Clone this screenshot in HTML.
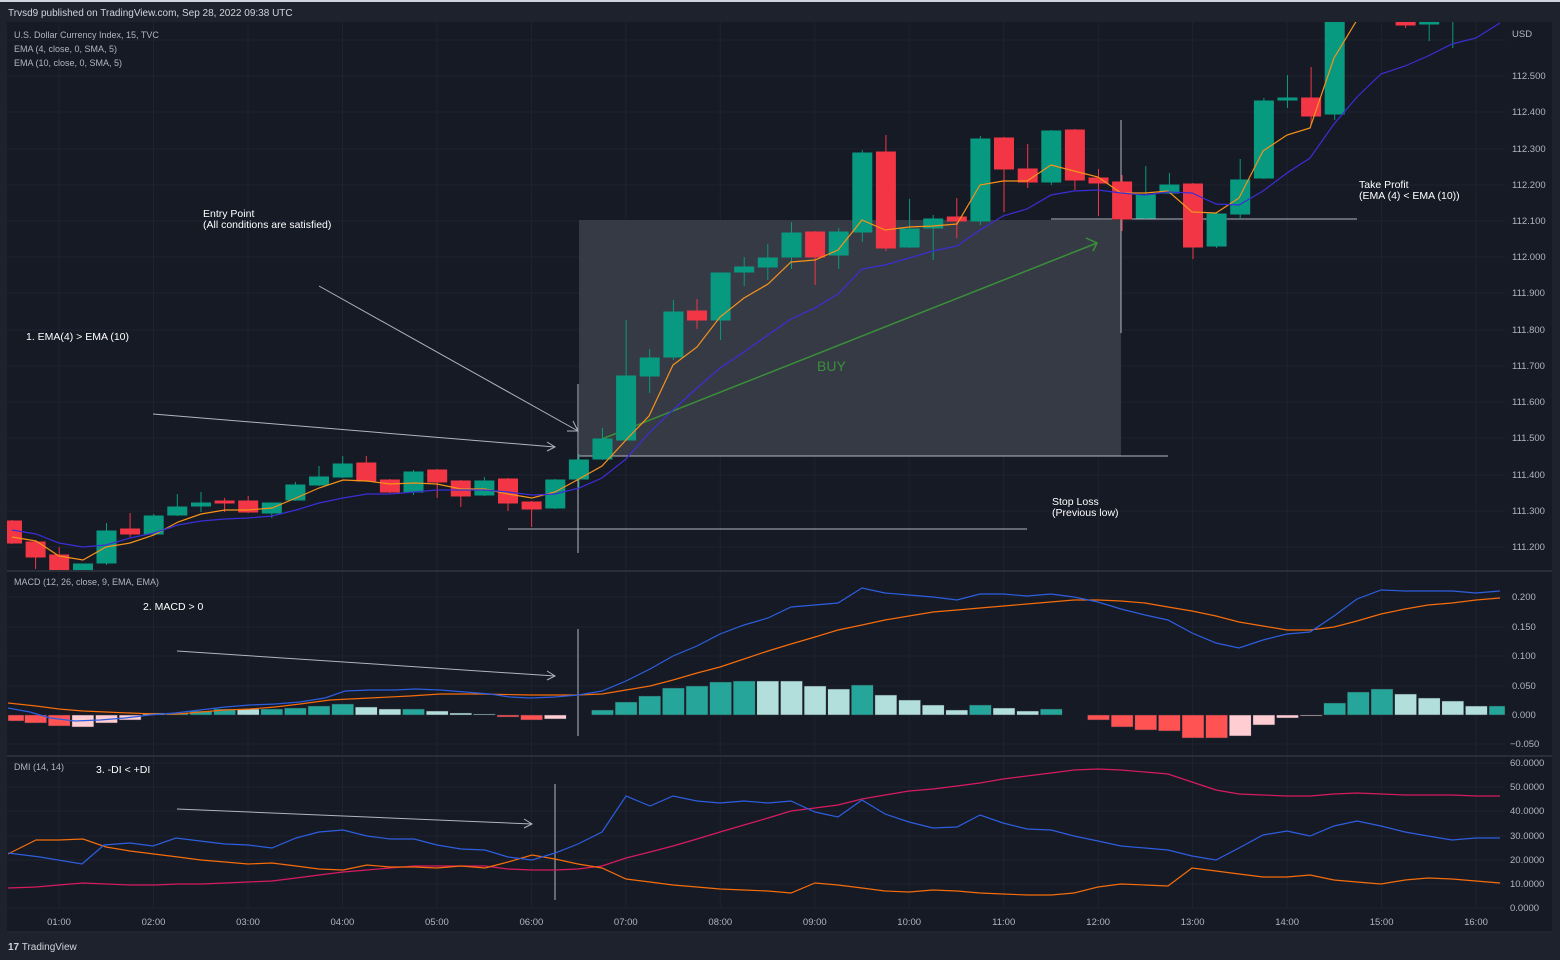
<!DOCTYPE html>
<html><head><meta charset="utf-8"><style>
html,body{margin:0;padding:0;background:#1e222d;}
svg{display:block;font-family:"Liberation Sans",sans-serif;}
</style></head><body>
<svg width="1560" height="960" viewBox="0 0 1560 960" xmlns="http://www.w3.org/2000/svg">
<rect x="0" y="0" width="1560" height="960" fill="#1e222d"/>
<rect x="0" y="0" width="1560" height="2" fill="#d1d4dc"/>
<rect x="7" y="22" width="1545" height="910" fill="#161a25"/>
<text x="8" y="16" font-size="10" fill="#d1d4dc">Trvsd9 published on TradingView.com, Sep 28, 2022 09:38 UTC</text>
<!-- grid -->
<g stroke="#1f2330" stroke-width="1">
<line x1="59" y1="22" x2="59" y2="908"/><line x1="153.5" y1="22" x2="153.5" y2="908"/><line x1="248" y1="22" x2="248" y2="908"/><line x1="342.4" y1="22" x2="342.4" y2="908"/><line x1="436.9" y1="22" x2="436.9" y2="908"/><line x1="531.4" y1="22" x2="531.4" y2="908"/><line x1="625.8" y1="22" x2="625.8" y2="908"/><line x1="720.3" y1="22" x2="720.3" y2="908"/><line x1="814.8" y1="22" x2="814.8" y2="908"/><line x1="909.2" y1="22" x2="909.2" y2="908"/><line x1="1003.7" y1="22" x2="1003.7" y2="908"/><line x1="1098.2" y1="22" x2="1098.2" y2="908"/><line x1="1192.6" y1="22" x2="1192.6" y2="908"/><line x1="1287.1" y1="22" x2="1287.1" y2="908"/><line x1="1381.6" y1="22" x2="1381.6" y2="908"/><line x1="1476" y1="22" x2="1476" y2="908"/>
<line x1="7" y1="40" x2="1505" y2="40"/><line x1="7" y1="76" x2="1505" y2="76"/><line x1="7" y1="112" x2="1505" y2="112"/><line x1="7" y1="149" x2="1505" y2="149"/><line x1="7" y1="185" x2="1505" y2="185"/><line x1="7" y1="221" x2="1505" y2="221"/><line x1="7" y1="257" x2="1505" y2="257"/><line x1="7" y1="293" x2="1505" y2="293"/><line x1="7" y1="330" x2="1505" y2="330"/><line x1="7" y1="366" x2="1505" y2="366"/><line x1="7" y1="402" x2="1505" y2="402"/><line x1="7" y1="438" x2="1505" y2="438"/><line x1="7" y1="475" x2="1505" y2="475"/><line x1="7" y1="511" x2="1505" y2="511"/><line x1="7" y1="547" x2="1505" y2="547"/>
<line x1="7" y1="597" x2="1505" y2="597"/><line x1="7" y1="627" x2="1505" y2="627"/><line x1="7" y1="656" x2="1505" y2="656"/><line x1="7" y1="686" x2="1505" y2="686"/><line x1="7" y1="744" x2="1505" y2="744"/>
<line x1="7" y1="763" x2="1505" y2="763"/><line x1="7" y1="787" x2="1505" y2="787"/><line x1="7" y1="811" x2="1505" y2="811"/><line x1="7" y1="836" x2="1505" y2="836"/><line x1="7" y1="860" x2="1505" y2="860"/><line x1="7" y1="884" x2="1505" y2="884"/><line x1="7" y1="908" x2="1505" y2="908"/>
</g>
<g stroke="#2a2e39" stroke-width="2"><line x1="7" y1="571" x2="1552" y2="571"/><line x1="7" y1="756" x2="1552" y2="756"/></g>
<line x1="7" y1="932" x2="1552" y2="932" stroke="#2a2e39"/>

<!-- position box -->
<rect x="579" y="220" width="542" height="236" fill="#363a45"/>
<g stroke="#b2b5be" stroke-width="1">
<line x1="579" y1="456" x2="1168" y2="456"/>
<line x1="1051" y1="219" x2="1357" y2="219"/>
<line x1="508" y1="529" x2="1027" y2="529"/>
<line x1="578" y1="384" x2="578" y2="553"/>
<line x1="1121" y1="120" x2="1121" y2="333"/>
<line x1="578" y1="629" x2="578" y2="736"/>
<line x1="555" y1="784" x2="555" y2="900"/>
<line x1="319" y1="286" x2="578" y2="431"/><polyline points="567,431 578,431 573,421" fill="none"/>
<line x1="153" y1="414" x2="555" y2="447"/><polyline points="547,442 555,447 547,451" fill="none"/>
<line x1="177" y1="651" x2="555" y2="676"/><polyline points="547,671 555,676 547,680" fill="none"/>
<line x1="177" y1="809" x2="532" y2="824"/><polyline points="524,819 532,824 524,828" fill="none"/>
</g>
<g stroke="#3a8f3a" stroke-width="1.5" fill="none"><line x1="602" y1="439" x2="1097" y2="243"/><polyline points="1086,238 1097,243 1093,251"/></g>
<text x="817" y="371" font-size="14" fill="#3a8f3a">BUY</text>

<svg x="7" y="22" width="1498" height="548" viewBox="7 22 1498 548" overflow="hidden">
<g stroke="#089981" fill="#089981" stroke-width="1">
<line x1="83" y1="564" x2="83" y2="572"/><rect x="73.5" y="564" width="19" height="6"/>
<line x1="106.5" y1="523" x2="106.5" y2="565"/><rect x="97" y="531" width="19" height="32"/>
<line x1="153.7" y1="514" x2="153.7" y2="535"/><rect x="144.2" y="516" width="19" height="18"/>
<line x1="177.3" y1="494" x2="177.3" y2="516"/><rect x="167.8" y="507" width="19" height="8"/>
<line x1="201" y1="492" x2="201" y2="512"/><rect x="191.5" y="503" width="19" height="3"/>
<line x1="271.8" y1="503" x2="271.8" y2="518"/><rect x="262.3" y="503" width="19" height="10"/>
<line x1="295.4" y1="482" x2="295.4" y2="501"/><rect x="285.9" y="485" width="19" height="15"/>
<line x1="319" y1="466" x2="319" y2="486"/><rect x="309.5" y="477" width="19" height="8"/>
<line x1="342.7" y1="456" x2="342.7" y2="478"/><rect x="333.2" y="464" width="19" height="13"/>
<line x1="413.5" y1="470" x2="413.5" y2="495"/><rect x="404" y="472" width="19" height="20"/>
<line x1="484.4" y1="477" x2="484.4" y2="496"/><rect x="474.9" y="481" width="19" height="14"/>
<line x1="555.3" y1="479" x2="555.3" y2="509"/><rect x="545.8" y="480" width="19" height="28"/>
<line x1="578.9" y1="454" x2="578.9" y2="489"/><rect x="569.4" y="460" width="19" height="19"/>
<line x1="602.5" y1="428" x2="602.5" y2="460"/><rect x="593" y="439" width="19" height="20"/>
<line x1="626.1" y1="320" x2="626.1" y2="441"/><rect x="616.6" y="376" width="19" height="64"/>
<line x1="649.7" y1="349" x2="649.7" y2="393"/><rect x="640.2" y="358" width="19" height="18"/>
<line x1="673.4" y1="300" x2="673.4" y2="360"/><rect x="663.9" y="312" width="19" height="45"/>
<line x1="720.6" y1="273" x2="720.6" y2="340"/><rect x="711.1" y="273" width="19" height="47"/>
<line x1="744.2" y1="257" x2="744.2" y2="286"/><rect x="734.7" y="267" width="19" height="5"/>
<line x1="767.8" y1="244" x2="767.8" y2="280"/><rect x="758.3" y="258" width="19" height="9"/>
<line x1="791.5" y1="222" x2="791.5" y2="269"/><rect x="782" y="233" width="19" height="24"/>
<line x1="838.7" y1="228" x2="838.7" y2="269"/><rect x="829.2" y="232" width="19" height="23"/>
<line x1="862.3" y1="150" x2="862.3" y2="242"/><rect x="852.8" y="153" width="19" height="79"/>
<line x1="909.6" y1="199" x2="909.6" y2="248"/><rect x="900.1" y="229" width="19" height="18"/>
<line x1="933.2" y1="215" x2="933.2" y2="260"/><rect x="923.7" y="219" width="19" height="9"/>
<line x1="980.4" y1="136" x2="980.4" y2="225"/><rect x="970.9" y="139" width="19" height="82"/>
<line x1="1051.3" y1="130" x2="1051.3" y2="185"/><rect x="1041.8" y="131" width="19" height="51"/>
<line x1="1145.8" y1="166" x2="1145.8" y2="219"/><rect x="1136.3" y="195" width="19" height="23"/>
<line x1="1169.4" y1="173" x2="1169.4" y2="194"/><rect x="1159.9" y="185" width="19" height="8"/>
<line x1="1216.6" y1="212" x2="1216.6" y2="248"/><rect x="1207.1" y="214" width="19" height="32"/>
<line x1="1240.2" y1="159" x2="1240.2" y2="219"/><rect x="1230.7" y="180" width="19" height="34"/>
<line x1="1263.9" y1="98" x2="1263.9" y2="179"/><rect x="1254.4" y="101" width="19" height="77"/>
<line x1="1287.5" y1="75" x2="1287.5" y2="108"/><rect x="1278" y="98" width="19" height="2"/>
<line x1="1334.7" y1="22" x2="1334.7" y2="120"/><rect x="1325.2" y="20" width="19" height="94"/>
<line x1="1429.2" y1="22" x2="1429.2" y2="41"/><rect x="1419.7" y="20" width="19" height="4"/>
<line x1="1452.8" y1="22" x2="1452.8" y2="48"/>
</g>
<g stroke="#f23645" fill="#f23645" stroke-width="1">
<line x1="12" y1="520" x2="12" y2="544"/><rect x="2.5" y="521" width="19" height="22"/>
<line x1="35.6" y1="542" x2="35.6" y2="569"/><rect x="26.1" y="542" width="19" height="15"/>
<line x1="59.2" y1="547" x2="59.2" y2="572"/><rect x="49.7" y="555" width="19" height="15"/>
<line x1="130.1" y1="513" x2="130.1" y2="537"/><rect x="120.6" y="529" width="19" height="5"/>
<line x1="224.6" y1="498" x2="224.6" y2="512"/><rect x="215.1" y="501" width="19" height="2"/>
<line x1="248.2" y1="496" x2="248.2" y2="513"/><rect x="238.7" y="501" width="19" height="11"/>
<line x1="366.3" y1="456" x2="366.3" y2="482"/><rect x="356.8" y="463" width="19" height="18"/>
<line x1="389.9" y1="479" x2="389.9" y2="493"/><rect x="380.4" y="480" width="19" height="12"/>
<line x1="437.2" y1="469" x2="437.2" y2="498"/><rect x="427.7" y="470" width="19" height="12"/>
<line x1="460.8" y1="480" x2="460.8" y2="507"/><rect x="451.3" y="481" width="19" height="15"/>
<line x1="508" y1="478" x2="508" y2="511"/><rect x="498.5" y="479" width="19" height="24"/>
<line x1="531.6" y1="501" x2="531.6" y2="527"/><rect x="522.1" y="502" width="19" height="7"/>
<line x1="697" y1="299" x2="697" y2="329"/><rect x="687.5" y="311" width="19" height="9"/>
<line x1="815.1" y1="231" x2="815.1" y2="285"/><rect x="805.6" y="232" width="19" height="25"/>
<line x1="885.9" y1="135" x2="885.9" y2="251"/><rect x="876.4" y="152" width="19" height="96"/>
<line x1="956.8" y1="198" x2="956.8" y2="238"/><rect x="947.3" y="217" width="19" height="4"/>
<line x1="1004" y1="137" x2="1004" y2="212"/><rect x="994.5" y="138" width="19" height="31"/>
<line x1="1027.7" y1="144" x2="1027.7" y2="188"/><rect x="1018.2" y="169" width="19" height="13"/>
<line x1="1074.9" y1="129" x2="1074.9" y2="190"/><rect x="1065.4" y="130" width="19" height="50"/>
<line x1="1098.5" y1="169" x2="1098.5" y2="216"/><rect x="1089" y="178" width="19" height="5"/>
<line x1="1122.1" y1="175" x2="1122.1" y2="231"/><rect x="1112.6" y="182" width="19" height="37"/>
<line x1="1193" y1="183" x2="1193" y2="259"/><rect x="1183.5" y="184" width="19" height="63"/>
<line x1="1311.1" y1="67" x2="1311.1" y2="124"/><rect x="1301.6" y="98" width="19" height="18"/>
<line x1="1405.6" y1="22" x2="1405.6" y2="28"/><rect x="1396.1" y="20" width="19" height="5"/>
</g>
<polyline fill="none" stroke="#f7931a" stroke-width="1.2" points="12,537 36,541 59,556 83,560 106,547 130,543 154,535 178,522 201,514 225,510 248,510 272,508 296,498 319,488 343,480 367,481 390,484 414,483 437,484 461,489 485,489 508,494 532,498 555,492 579,479 602,466 626,440 649,416 673,365 697,347 720,317 744,298 768,284 791,262 815,260 838,250 862,220 885,230 909,227 933,226 957,224 980,185 1003,181 1027,181 1051,165 1074,171 1098,177 1121,193 1145,193 1168,191 1192,212 1216,213 1239,198 1263,151 1287,135 1310,128 1334,58 1357,20"/>
<polyline fill="none" stroke="#3a2fd6" stroke-width="1.2" points="12,530 36,534 59,543 83,547 106,545 130,538 154,533 178,525 201,521 225,519 248,518 272,516 296,510 319,503 343,498 367,494 390,494 414,492 437,490 461,490 485,490 508,492 532,495 555,494 579,488 602,478 626,459 649,433 673,410 697,388 720,368 744,352 768,335 791,319 815,308 838,294 862,269 885,265 909,258 933,251 957,246 980,230 1003,216 1027,209 1051,195 1074,191 1098,190 1121,193 1145,195 1168,192 1192,193 1216,204 1239,205 1263,191 1287,173 1310,158 1334,124 1357,97 1381,74 1405,66 1428,56 1452,44 1476,38 1500,23"/>
</svg>

<!-- MACD histogram -->
<g stroke="#2a2e39" stroke-width="0.5">
<g fill="#ff5252"><rect x="8" y="715" width="16" height="6"/><rect x="24.6" y="715" width="22" height="8"/><rect x="48.2" y="715" width="22" height="11"/><rect x="497" y="715" width="22" height="2"/><rect x="520.6" y="715" width="22" height="5"/><rect x="1087.5" y="715" width="22" height="5"/><rect x="1111.1" y="715" width="22" height="12"/><rect x="1134.8" y="715" width="22" height="15"/><rect x="1158.4" y="715" width="22" height="16"/><rect x="1182" y="715" width="22" height="23"/><rect x="1205.6" y="715" width="22" height="23"/></g>
<g fill="#ffcdd2"><rect x="71.9" y="715" width="22" height="12"/><rect x="95.5" y="715" width="22" height="8"/><rect x="119.1" y="715" width="22" height="5"/><rect x="544.3" y="715" width="22" height="4"/><rect x="1229.2" y="715" width="22" height="21"/><rect x="1252.9" y="715" width="22" height="10"/><rect x="1276.5" y="715" width="22" height="3"/><rect x="1300.1" y="715" width="22" height="1"/></g>
<g fill="#b2dfdb"><rect x="142.7" y="713" width="22" height="2"/><rect x="237.2" y="709" width="22" height="6"/><rect x="355.3" y="707" width="22" height="8"/><rect x="378.9" y="709" width="22" height="6"/><rect x="426.2" y="711" width="22" height="4"/><rect x="449.8" y="713" width="22" height="2"/><rect x="473.4" y="714" width="22" height="1"/><rect x="756.8" y="681" width="22" height="34"/><rect x="780.5" y="681" width="22" height="34"/><rect x="804.1" y="686" width="22" height="29"/><rect x="827.7" y="689" width="22" height="26"/><rect x="874.9" y="695" width="22" height="20"/><rect x="898.6" y="700" width="22" height="15"/><rect x="922.2" y="705" width="22" height="10"/><rect x="945.8" y="710" width="22" height="5"/><rect x="993" y="708" width="22" height="7"/><rect x="1016.7" y="711" width="22" height="4"/><rect x="1394.6" y="694" width="22" height="21"/><rect x="1418.2" y="698" width="22" height="17"/><rect x="1441.8" y="701" width="22" height="14"/><rect x="1465.4" y="706" width="22" height="9"/></g>
<g fill="#26a69a"><rect x="166.3" y="713" width="22" height="2"/><rect x="190" y="711" width="22" height="4"/><rect x="213.6" y="709" width="22" height="6"/><rect x="260.8" y="709" width="22" height="6"/><rect x="284.4" y="708" width="22" height="7"/><rect x="308" y="706" width="22" height="9"/><rect x="331.7" y="704" width="22" height="11"/><rect x="402.5" y="709" width="22" height="6"/><rect x="591.5" y="710" width="22" height="5"/><rect x="615.1" y="702" width="22" height="13"/><rect x="638.7" y="696" width="22" height="19"/><rect x="662.4" y="688" width="22" height="27"/><rect x="686" y="686" width="22" height="29"/><rect x="709.6" y="682" width="22" height="33"/><rect x="733.2" y="681" width="22" height="34"/><rect x="851.3" y="685" width="22" height="30"/><rect x="969.4" y="705" width="22" height="10"/><rect x="1040.3" y="709" width="22" height="6"/><rect x="1323.7" y="703" width="22" height="12"/><rect x="1347.3" y="692" width="22" height="23"/><rect x="1371" y="689" width="22" height="26"/><rect x="1489" y="706" width="16" height="9"/></g>
</g>
<polyline fill="none" stroke="#f56c0b" stroke-width="1.2" points="8,703 36,706 59,709 83,711 106,712 130,713 154,714 178,714 201,712 225,710 250,709 275,707 300,704 330,700 370,698 410,696 440,694 480,694 530,695 578,695 602,694 626,690 650,686 673,680 697,673 720,667 744,659 768,651 791,644 815,637 838,630 862,625 885,620 909,616 933,612 957,610 980,608 1027,604 1074,600 1098,600 1121,601 1145,603 1168,607 1192,611 1216,616 1239,622 1263,626 1287,630 1310,630 1334,627 1357,621 1381,614 1405,609 1428,605 1452,603 1476,600 1500,598"/>
<polyline fill="none" stroke="#2d5ee0" stroke-width="1.2" points="8,708 30,712 50,718 75,721 100,720 125,718 150,715 175,713 200,710 225,707 250,705 275,704 300,702 325,698 345,691 370,690 395,690 415,689 440,690 465,692 490,694 510,697 530,698 555,697 578,695 602,691 626,681 650,669 673,656 697,646 720,634 744,625 768,618 791,607 815,605 838,603 862,588 885,593 909,595 933,597 957,600 980,594 1003,594 1027,596 1051,594 1074,597 1098,602 1121,609 1145,615 1168,620 1192,633 1216,643 1239,648 1263,640 1287,634 1310,632 1334,616 1357,599 1381,590 1405,591 1428,591 1452,591 1476,593 1500,591"/>

<!-- DMI -->
<polyline fill="none" stroke="#d81b60" stroke-width="1.2" points="8,888 36,887 59,885 83,883 106,884 130,885 154,885 178,884 201,884 225,883 248,882 272,881 296,878 319,875 343,872 367,870 390,868 414,866 437,866 461,866 485,866 508,869 532,870 555,870 578,869 602,866 626,858 650,852 673,846 697,839 720,832 744,825 768,818 791,811 815,808 838,805 862,799 885,795 909,791 933,789 957,786 980,783 1003,779 1027,776 1051,773 1074,770 1098,769 1121,770 1145,772 1168,774 1192,782 1216,790 1239,794 1263,795 1287,796 1310,796 1334,794 1357,793 1381,794 1405,795 1428,795 1452,795 1476,796 1500,796"/>
<polyline fill="none" stroke="#f56c0b" stroke-width="1.2" points="8,854 36,840 59,840 83,839 106,847 130,851 154,854 178,857 201,860 225,862 248,864 272,863 296,866 319,869 343,870 367,865 390,867 414,867 437,868 461,866 485,868 508,862 532,855 555,859 578,864 602,868 626,879 650,882 673,885 697,887 720,889 744,890 768,891 791,893 815,883 838,885 862,888 885,891 909,892 933,890 957,891 980,893 1003,894 1027,895 1051,895 1074,893 1098,887 1121,884 1145,885 1168,886 1192,868 1216,871 1239,874 1263,877 1287,877 1310,875 1334,880 1357,882 1381,884 1405,880 1428,878 1452,879 1476,881 1500,883"/>
<polyline fill="none" stroke="#2d5ee0" stroke-width="1.2" points="8,853 40,857 82,864 104,845 130,843 153,846 176,838 200,841 225,844 248,845 272,848 296,838 319,832 343,830 367,836 390,839 414,839 437,845 461,849 485,850 508,857 532,860 555,853 578,844 602,832 626,796 650,806 673,796 697,801 720,803 744,801 768,803 791,801 815,812 838,817 862,800 885,814 909,822 933,828 957,827 980,815 1003,823 1027,829 1051,830 1074,836 1098,841 1121,846 1145,848 1168,850 1192,856 1216,860 1239,848 1263,835 1287,831 1310,836 1334,826 1357,821 1381,826 1405,832 1428,836 1452,840 1476,838 1500,838"/>

<!-- labels -->
<g font-size="9" fill="#b2b5be">
<text x="14" y="38">U.S. Dollar Currency Index, 15, TVC</text>
<text x="14" y="52">EMA (4, close, 0, SMA, 5)</text>
<text x="14" y="66">EMA (10, close, 0, SMA, 5)</text>
<text x="14" y="585">MACD (12, 26, close, 9, EMA, EMA)</text>
<text x="14" y="770">DMI (14, 14)</text>
</g>
<g font-size="10.5" fill="#ffffff">
<text x="203" y="217">Entry Point</text><text x="203" y="228">(All conditions are satisfied)</text>
<text x="26" y="340">1. EMA(4) &gt; EMA (10)</text>
<text x="143" y="610">2. MACD &gt; 0</text>
<text x="96" y="773">3. -DI &lt; +DI</text>
<text x="1052" y="505">Stop Loss</text><text x="1052" y="516">(Previous low)</text>
<text x="1359" y="188">Take Profit</text><text x="1359" y="199">(EMA (4) &lt; EMA (10))</text>
</g>
<g font-size="9.5" fill="#b2b5be">
<text x="1512" y="37">USD</text>
<text x="1512" y="79">112.500</text><text x="1512" y="115">112.400</text><text x="1512" y="152">112.300</text><text x="1512" y="188">112.200</text><text x="1512" y="224">112.100</text><text x="1512" y="260">112.000</text><text x="1512" y="296">111.900</text><text x="1512" y="333">111.800</text><text x="1512" y="369">111.700</text><text x="1512" y="405">111.600</text><text x="1512" y="441">111.500</text><text x="1512" y="478">111.400</text><text x="1512" y="514">111.300</text><text x="1512" y="550">111.200</text>
<text x="1512" y="600">0.200</text><text x="1512" y="630">0.150</text><text x="1512" y="659">0.100</text><text x="1512" y="689">0.050</text><text x="1512" y="718">0.000</text><text x="1510" y="747">−0.050</text>
<text x="1510" y="766">60.0000</text><text x="1510" y="790">50.0000</text><text x="1510" y="814">40.0000</text><text x="1510" y="839">30.0000</text><text x="1510" y="863">20.0000</text><text x="1510" y="887">10.0000</text><text x="1510" y="911">0.0000</text>
</g>
<g font-size="9.5" fill="#b2b5be" text-anchor="middle">
<text x="59" y="925">01:00</text><text x="153.5" y="925">02:00</text><text x="248" y="925">03:00</text><text x="342.4" y="925">04:00</text><text x="436.9" y="925">05:00</text><text x="531.4" y="925">06:00</text><text x="625.8" y="925">07:00</text><text x="720.3" y="925">08:00</text><text x="814.8" y="925">09:00</text><text x="909.2" y="925">10:00</text><text x="1003.7" y="925">11:00</text><text x="1098.2" y="925">12:00</text><text x="1192.6" y="925">13:00</text><text x="1287.1" y="925">14:00</text><text x="1381.6" y="925">15:00</text><text x="1476" y="925">16:00</text>
</g>
<text x="8" y="950" font-size="10" fill="#d1d4dc"><tspan font-weight="bold">17</tspan> TradingView</text>
</svg>
</body></html>
